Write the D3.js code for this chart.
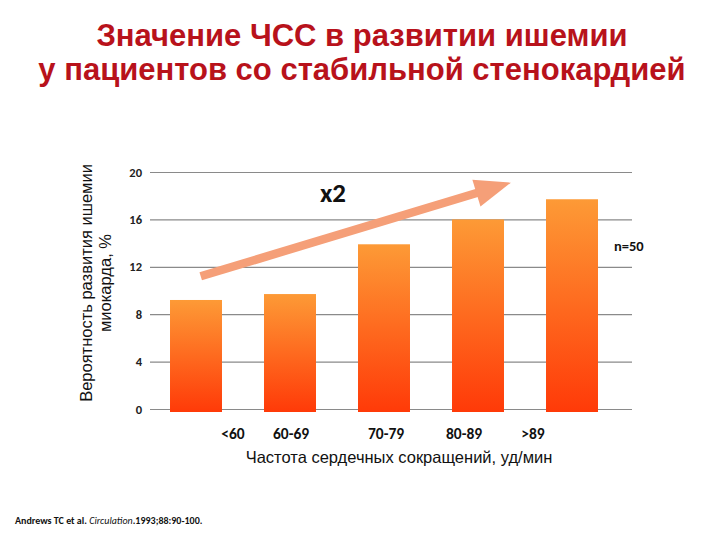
<!DOCTYPE html>
<html><head><meta charset="utf-8">
<script src="https://cdn.jsdelivr.net/npm/d3@7"></script>
<style>body{margin:0;background:#fff}</style>
</head><body>
<script>
const categories = ["<60", "60-69", "70-79", "80-89", ">89"];
const values = [9.2, 9.7, 13.9, 16.0, 17.7];
const yTicks = [0, 4, 8, 12, 16, 20];
const titleLines = ["Значение ЧСС в развитии ишемии", "у пациентов со стабильной стенокардией"];
const yTitle = ["Вероятность развития ишемии", "миокарда, %"];
const xTitle = "Частота сердечных сокращений, уд/мин";
const arrowFrom = {i: 0.05, v: 11.2};
const arrowTo = {i: 3.35, v: 19.1};

const W = 720, H = 540;
const svg = d3.select("body").append("svg").attr("width", W).attr("height", H);
const defs = svg.append("defs");
const g = defs.append("linearGradient").attr("id","bg").attr("x1",0).attr("y1",0).attr("x2",0).attr("y2",1);
g.append("stop").attr("offset","0%").attr("stop-color","#fd9a36");
g.append("stop").attr("offset","100%").attr("stop-color","#ff3a08");

const y = d3.scaleLinear().domain([0, 20]).range([409, 172]);
const x = d3.scaleBand().domain(categories).range([149, 619]).paddingInner(0.447).paddingOuter(0.2235);
const xi = d3.scaleLinear().domain([0, 1]).range([x(categories[0]) + x.bandwidth()/2, x(categories[1]) + x.bandwidth()/2]);

// title
svg.append("g").selectAll("text").data(titleLines).join("text")
  .attr("x", 362).attr("y", (d,i)=> 46 + i*34)
  .attr("text-anchor","middle")
  .attr("font-family","'Liberation Sans',Arial,sans-serif")
  .attr("font-weight","bold").attr("font-size", 31).attr("fill","#b8121b")
  .text(d=>d);

// grid + axis
const ax = svg.append("g").attr("transform","translate(150,0)")
  .call(d3.axisLeft(y).tickValues(yTicks).tickSize(-482).tickPadding(8));
ax.select(".domain").remove();
ax.selectAll(".tick line").attr("stroke","#8a8a8a").attr("stroke-width",1.2);
ax.selectAll(".tick text").attr("font-family","Carlito,Calibri,'Liberation Sans',sans-serif")
  .attr("font-weight","bold").attr("font-size",12.5).attr("fill","#222");

// bars
svg.append("g").selectAll("rect").data(values).join("rect")
  .attr("x",(d,i)=>x(categories[i])).attr("width",x.bandwidth())
  .attr("y",d=>y(d)).attr("height",d=>y(0)-y(d)+3)
  .attr("fill","url(#bg)");

// x labels
const xa = svg.append("g").attr("transform","translate(0,428)")
  .call(d3.axisBottom(x).tickSize(0).tickPadding(0));
xa.select(".domain").remove();
const labelShift = [37, 1, 2, -14, -39];
xa.selectAll(".tick text").attr("dx",(d,i)=>labelShift[i])
  .attr("font-family","Carlito,Calibri,'Liberation Sans',sans-serif")
  .attr("font-weight","bold").attr("font-size",15.5).attr("fill","#111");

// x title
svg.append("text").attr("x",399).attr("y",463).attr("text-anchor","middle")
  .attr("font-family","'Liberation Sans',Arial,sans-serif").attr("font-size",16.5).attr("fill","#111")
  .text(xTitle);

// y title
svg.append("g").attr("transform","translate(92,283) rotate(-90)")
  .selectAll("text").data(yTitle).join("text")
  .attr("x",0).attr("y",(d,i)=>i*18.5).attr("text-anchor","middle")
  .attr("font-family","'Liberation Sans',Arial,sans-serif").attr("font-size",16.5).attr("fill","#111")
  .text(d=>d);

// arrow
const x1 = xi(arrowFrom.i), y1 = y(arrowFrom.v), x2 = xi(arrowTo.i), y2 = y(arrowTo.v);
const ang = Math.atan2(y2-y1, x2-x1);
const headLen = 36, headW = 14;
const bx = x2 - headLen*Math.cos(ang), by = y2 - headLen*Math.sin(ang);
svg.append("line").attr("x1",x1).attr("y1",y1).attr("x2",bx+2*Math.cos(ang)).attr("y2",by+2*Math.sin(ang))
  .attr("stroke","#f59f78").attr("stroke-width",8.5);
svg.append("path").attr("d", d3.line()([
  [x2,y2],
  [bx + headW*Math.sin(ang), by - headW*Math.cos(ang)],
  [bx - headW*Math.sin(ang), by + headW*Math.cos(ang)]
])+"Z").attr("fill","#f59f78");

// x2
svg.append("text").attr("x",333).attr("y",202).attr("text-anchor","middle")
  .attr("font-family","Carlito,Calibri,'Liberation Sans',sans-serif").attr("font-weight","bold")
  .attr("font-size",27).attr("fill","#111").text("x2");

// n=50
svg.append("text").attr("x",614).attr("y",251)
  .attr("font-family","Carlito,Calibri,'Liberation Sans',sans-serif").attr("font-weight","bold")
  .attr("font-size",14.5).attr("fill","#111").text("n=50");

// citation
const cit = svg.append("text").attr("x",15).attr("y",524)
  .attr("font-family","Carlito,Calibri,'Liberation Sans',sans-serif").attr("font-size",10).attr("fill","#111");
cit.append("tspan").attr("font-weight","bold").text("Andrews TC et al. ");
cit.append("tspan").attr("font-style","italic").text("Circulation");
cit.append("tspan").attr("font-weight","bold").text(".1993;88:90-100.");
</script>
</body></html>
